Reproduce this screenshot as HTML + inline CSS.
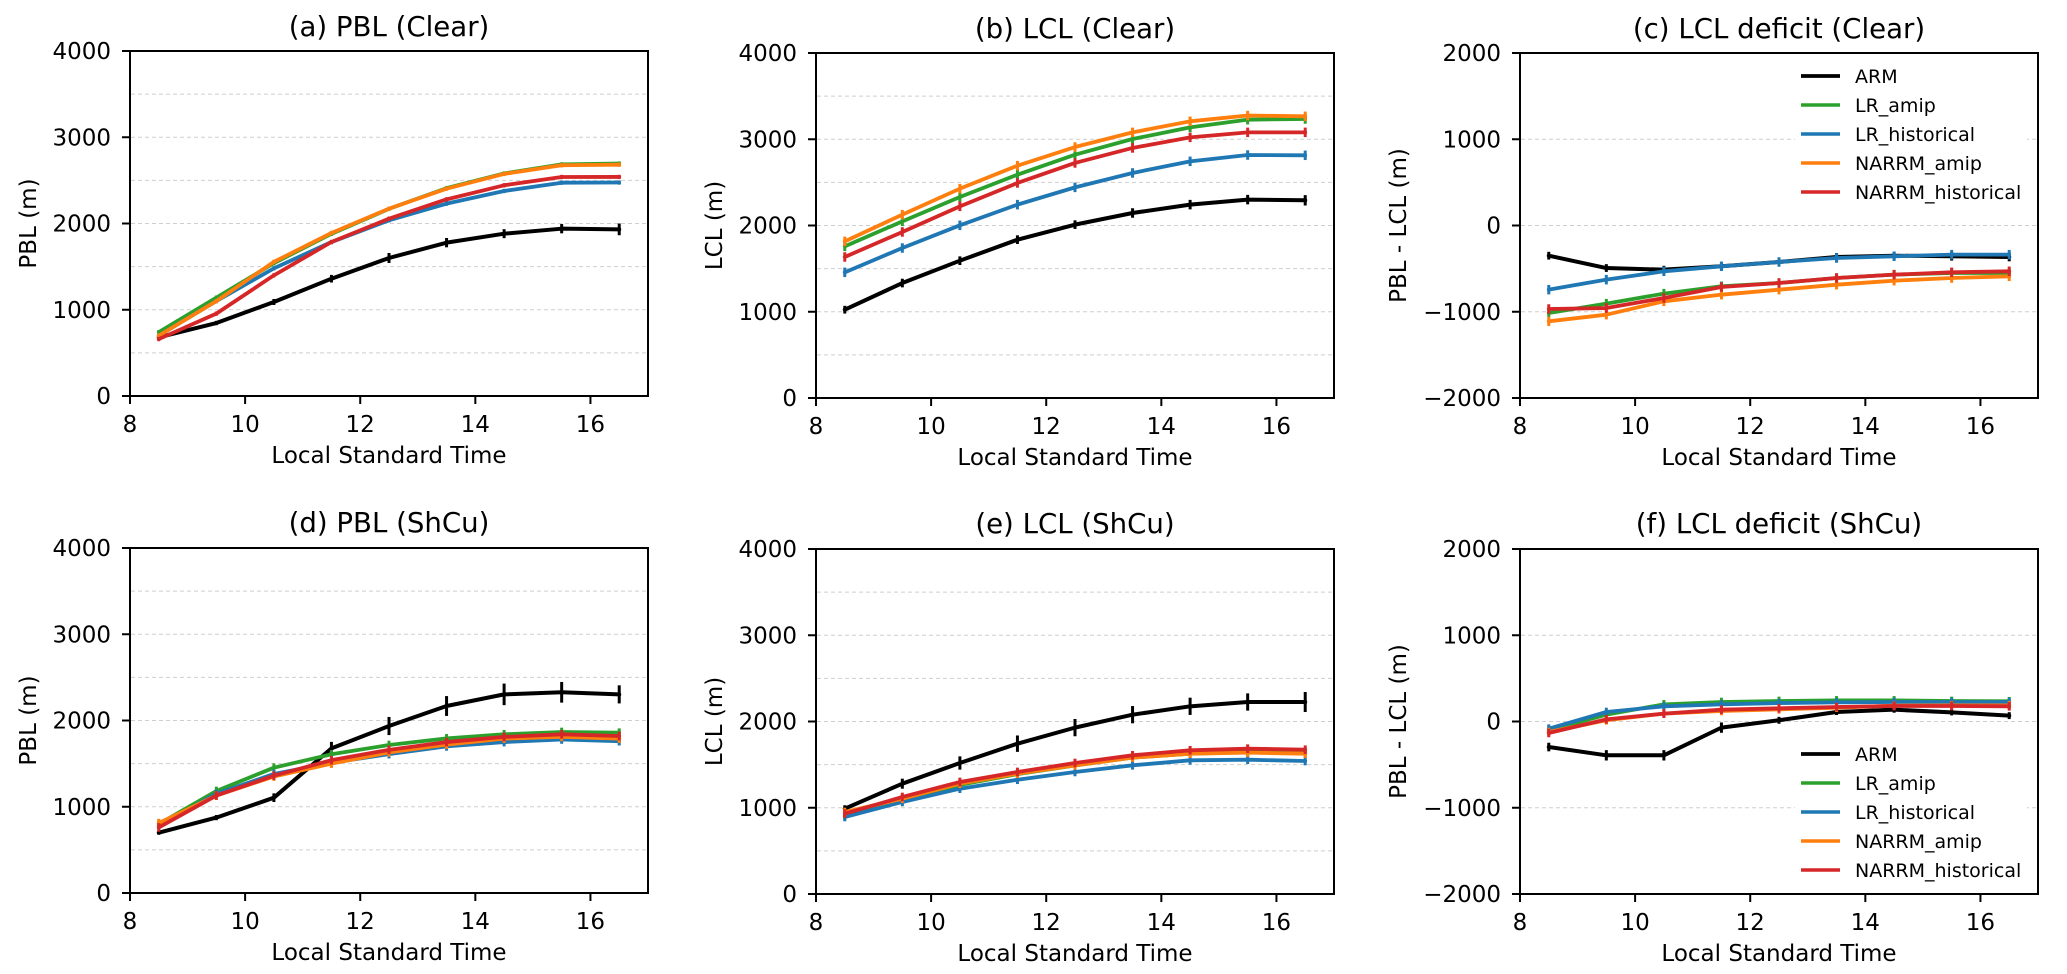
<!DOCTYPE html>
<html><head><meta charset="utf-8"><style>
html,body{margin:0;padding:0;background:#fff;}
svg{display:block;}
text{font-family:"DejaVu Sans","Liberation Sans",sans-serif;fill:#000;}
.t{font-size:23px;}
.ti{font-size:27.6px;}
.lg{font-size:19px;}
</style></head><body>
<svg id="s" width="2067" height="974" viewBox="0 0 2067 974" xmlns="http://www.w3.org/2000/svg">
<rect width="2067" height="974" fill="#fff"/>
<g id="plots"></g>
<g id="frames" fill="none" stroke="#000" stroke-width="2"></g>

<!-- Panel A -->
<text class="ti" x="389" y="36" text-anchor="middle">(a) PBL (Clear)</text>
<g class="t" text-anchor="end">
<text x="111" y="404">0</text><text x="111" y="317.75">1000</text><text x="111" y="231.5">2000</text><text x="111" y="145.25">3000</text><text x="111" y="59">4000</text>
</g>
<g class="t" text-anchor="middle">
<text x="130" y="432">8</text><text x="245.1" y="432">10</text><text x="360.2" y="432">12</text><text x="475.3" y="432">14</text><text x="590.4" y="432">16</text>
<text x="389" y="463">Local Standard Time</text>
<text transform="translate(36,223.5) rotate(-90)">PBL (m)</text>
</g>

<!-- Panel B -->
<text class="ti" x="1075" y="38" text-anchor="middle">(b) LCL (Clear)</text>
<g class="t" text-anchor="end">
<text x="797" y="406">0</text><text x="797" y="319.75">1000</text><text x="797" y="233.5">2000</text><text x="797" y="147.25">3000</text><text x="797" y="61">4000</text>
</g>
<g class="t" text-anchor="middle">
<text x="816" y="434">8</text><text x="931.1" y="434">10</text><text x="1046.2" y="434">12</text><text x="1161.3" y="434">14</text><text x="1276.4" y="434">16</text>
<text x="1075" y="465">Local Standard Time</text>
<text transform="translate(722,225.5) rotate(-90)">LCL (m)</text>
</g>

<!-- Panel C -->
<text class="ti" x="1779" y="38" text-anchor="middle">(c) LCL deficit (Clear)</text>
<g class="t" text-anchor="end">
<text x="1501" y="61">2000</text><text x="1501" y="147.25">1000</text><text x="1501" y="233.5">0</text><text x="1501" y="319.75">−1000</text><text x="1501" y="406">−2000</text>
</g>
<g class="t" text-anchor="middle">
<text x="1520" y="434">8</text><text x="1635.1" y="434">10</text><text x="1750.2" y="434">12</text><text x="1865.3" y="434">14</text><text x="1980.4" y="434">16</text>
<text x="1779" y="465">Local Standard Time</text>
<text transform="translate(1406,225.5) rotate(-90)">PBL - LCL (m)</text>
</g>

<!-- Panel D -->
<text class="ti" x="389" y="532" text-anchor="middle">(d) PBL (ShCu)</text>
<g class="t" text-anchor="end">
<text x="111" y="901">0</text><text x="111" y="814.75">1000</text><text x="111" y="728.5">2000</text><text x="111" y="642.25">3000</text><text x="111" y="556">4000</text>
</g>
<g class="t" text-anchor="middle">
<text x="130" y="929">8</text><text x="245.1" y="929">10</text><text x="360.2" y="929">12</text><text x="475.3" y="929">14</text><text x="590.4" y="929">16</text>
<text x="389" y="960">Local Standard Time</text>
<text transform="translate(36,720.5) rotate(-90)">PBL (m)</text>
</g>

<!-- Panel E -->
<text class="ti" x="1075" y="533" text-anchor="middle">(e) LCL (ShCu)</text>
<g class="t" text-anchor="end">
<text x="797" y="902">0</text><text x="797" y="815.75">1000</text><text x="797" y="729.5">2000</text><text x="797" y="643.25">3000</text><text x="797" y="557">4000</text>
</g>
<g class="t" text-anchor="middle">
<text x="816" y="930">8</text><text x="931.1" y="930">10</text><text x="1046.2" y="930">12</text><text x="1161.3" y="930">14</text><text x="1276.4" y="930">16</text>
<text x="1075" y="961">Local Standard Time</text>
<text transform="translate(722,721.5) rotate(-90)">LCL (m)</text>
</g>

<!-- Panel F -->
<text class="ti" x="1779" y="533" text-anchor="middle">(f) LCL deficit (ShCu)</text>
<g class="t" text-anchor="end">
<text x="1501" y="557">2000</text><text x="1501" y="643.25">1000</text><text x="1501" y="729.5">0</text><text x="1501" y="815.75">−1000</text><text x="1501" y="902">−2000</text>
</g>
<g class="t" text-anchor="middle">
<text x="1520" y="930">8</text><text x="1635.1" y="930">10</text><text x="1750.2" y="930">12</text><text x="1865.3" y="930">14</text><text x="1980.4" y="930">16</text>
<text x="1779" y="961">Local Standard Time</text>
<text transform="translate(1406,721.5) rotate(-90)">PBL - LCL (m)</text>
</g>

<!-- Legend C -->
<g>
<rect x="1795" y="60" width="232" height="148" fill="#fff"/>
<line x1="1801" y1="76" x2="1840" y2="76" stroke="#000" stroke-width="3.8"/>
<line x1="1801" y1="105" x2="1840" y2="105" stroke="#2ca02c" stroke-width="3.4"/>
<line x1="1801" y1="134" x2="1840" y2="134" stroke="#1f77b4" stroke-width="3.4"/>
<line x1="1801" y1="163" x2="1840" y2="163" stroke="#ff7f0e" stroke-width="3.4"/>
<line x1="1801" y1="192" x2="1840" y2="192" stroke="#d62728" stroke-width="3.4"/>
<g class="lg">
<text x="1855" y="83">ARM</text>
<text x="1855" y="112">LR_amip</text>
<text x="1855" y="141">LR_historical</text>
<text x="1855" y="170">NARRM_amip</text>
<text x="1855" y="199">NARRM_historical</text>
</g>
</g>

<!-- Legend F -->
<g>
<rect x="1795" y="738" width="232" height="148" fill="#fff"/>
<line x1="1801" y1="754" x2="1840" y2="754" stroke="#000" stroke-width="3.8"/>
<line x1="1801" y1="783" x2="1840" y2="783" stroke="#2ca02c" stroke-width="3.4"/>
<line x1="1801" y1="812" x2="1840" y2="812" stroke="#1f77b4" stroke-width="3.4"/>
<line x1="1801" y1="841" x2="1840" y2="841" stroke="#ff7f0e" stroke-width="3.4"/>
<line x1="1801" y1="870" x2="1840" y2="870" stroke="#d62728" stroke-width="3.4"/>
<g class="lg">
<text x="1855" y="761">ARM</text>
<text x="1855" y="790">LR_amip</text>
<text x="1855" y="819">LR_historical</text>
<text x="1855" y="848">NARRM_amip</text>
<text x="1855" y="877">NARRM_historical</text>
</g>
</g>
</svg>
<script>
(function(){
var NS="http://www.w3.org/2000/svg";
var plots=document.getElementById("plots");
var frames=document.getElementById("frames");
function el(tag,a,parent){var e=document.createElementNS(NS,tag);for(var k in a)e.setAttribute(k,a[k]);parent.appendChild(e);return e;}
var G4=[500,1000,1500,2000,2500,3000,3500], G2=[-1000,0,1000];
var T4=[0,1000,2000,3000,4000], T2=[-2000,-1000,0,1000,2000];
var P=[
{x0:130,x1:648,y0:51,y1:396,lo:0,hi:4000,grid:G4,yt:T4,
 k:[680,846,1090,1360,1600,1778,1882,1940,1932],ke:[25,25,35,44,58,54,52,54,68],
 g:[740,1140,1540,1880,2170,2410,2580,2685,2695],
 b:[700,1100,1480,1785,2037,2230,2377,2473,2475],
 o:[700,1100,1555,1890,2172,2404,2575,2675,2682],
 r:[660,955,1399,1785,2056,2280,2443,2539,2540],ce:25},
{x0:816,x1:1334,y0:53,y1:398,lo:0,hi:4000,grid:G4,yt:T4,
 k:[1024,1333,1592,1836,2010,2145,2242,2300,2292],ke:[45,50,50,50,50,55,55,55,60],
 g:[1758,2048,2330,2589,2821,3003,3138,3227,3235],
 b:[1457,1739,2002,2242,2442,2609,2744,2817,2814],
 o:[1816,2126,2427,2694,2910,3080,3208,3275,3266],
 r:[1635,1925,2222,2493,2725,2899,3022,3080,3080],ce:55},
{x0:1520,x1:2038,y0:53,y1:398,lo:-2000,hi:2000,grid:G2,yt:T2,
 k:[-350,-493,-512,-473,-423,-365,-350,-357,-365],ke:[45,45,45,45,45,45,45,50,50],
 g:[-1014,-906,-790,-705,-667,-609,-570,-551,-551],
 b:[-744,-628,-531,-473,-423,-377,-357,-338,-338],
 o:[-1111,-1034,-879,-802,-744,-686,-640,-609,-589],
 r:[-968,-957,-841,-713,-667,-609,-570,-543,-531],ce:55},
{x0:130,x1:648,y0:548,y1:893,lo:0,hi:4000,grid:G4,yt:T4,
 k:[700,874,1105,1677,1936,2168,2303,2327,2303],ke:[25,30,50,75,105,115,125,120,105],
 g:[800,1183,1453,1608,1716,1793,1840,1867,1859],
 b:[780,1150,1380,1510,1610,1700,1750,1780,1760],
 o:[810,1130,1350,1500,1630,1720,1790,1810,1790],
 r:[760,1130,1360,1540,1660,1750,1810,1840,1820],ce:50},
{x0:816,x1:1334,y0:549,y1:894,lo:0,hi:4000,grid:G4,yt:T4,
 k:[989,1279,1519,1743,1929,2079,2176,2226,2226],ke:[40,58,77,95,100,100,100,100,116],
 g:[912,1090,1265,1390,1490,1581,1627,1645,1635],
 b:[893,1067,1221,1325,1415,1492,1550,1557,1542],
 o:[951,1105,1279,1395,1492,1581,1627,1639,1627],
 r:[931,1125,1299,1415,1519,1608,1666,1685,1673],ce:50},
{x0:1520,x1:2038,y0:549,y1:894,lo:-2000,hi:2000,grid:G2,yt:T2,
 k:[-296,-392,-392,-71,14,110,137,106,68],ke:[50,60,60,60,40,35,35,35,40],
 g:[-102,79,199,226,238,245,245,238,234],
 b:[-83,110,176,199,214,222,226,226,226],
 o:[-122,14,91,122,141,160,184,187,187],
 r:[-133,25,91,137,153,168,180,180,176],ce:50}
];
var COL={k:"#000000",g:"#2ca02c",b:"#1f77b4",o:"#ff7f0e",r:"#d62728"};
P.forEach(function(p){
  var X=function(v){return p.x0+(v-8)*(p.x1-p.x0)/9;};
  var Y=function(v){return p.y1-(v-p.lo)*(p.y1-p.y0)/(p.hi-p.lo);};
  p.grid.forEach(function(v){
    var y=Y(v).toFixed(2);
    el("line",{x1:p.x0+1,y1:y,x2:p.x1-1,y2:y,stroke:"#cfcfcf","stroke-width":1.1,"stroke-dasharray":"4,3"},plots);
  });
  ["k","g","b","o","r"].forEach(function(s){
    var d="",arr=p[s];
    for(var i=0;i<9;i++){var x=X(8.5+i),y=Y(arr[i]);d+=(i?"L":"M")+x.toFixed(2)+","+y.toFixed(2);}
    var w=s==="k"?4:3.8;
    el("path",{d:d,fill:"none",stroke:COL[s],"stroke-width":w,"stroke-linejoin":"round","stroke-linecap":"round"},plots);
    for(var j=0;j<9;j++){
      var e=s==="k"?p.ke[j]:p.ce;var xx=X(8.5+j).toFixed(2);
      el("line",{x1:xx,x2:xx,y1:Y(arr[j]-e).toFixed(2),y2:Y(arr[j]+e).toFixed(2),stroke:COL[s],"stroke-width":3},plots);
    }
  });
  el("rect",{x:p.x0,y:p.y0,width:p.x1-p.x0,height:p.y1-p.y0},frames);
  [8,10,12,14,16].forEach(function(v){var x=X(v);el("line",{x1:x,x2:x,y1:p.y1,y2:p.y1+8},frames);});
  p.yt.forEach(function(v){var y=Y(v);el("line",{x1:p.x0-8,x2:p.x0,y1:y,y2:y},frames);});
});
})();
</script>
</body></html>
